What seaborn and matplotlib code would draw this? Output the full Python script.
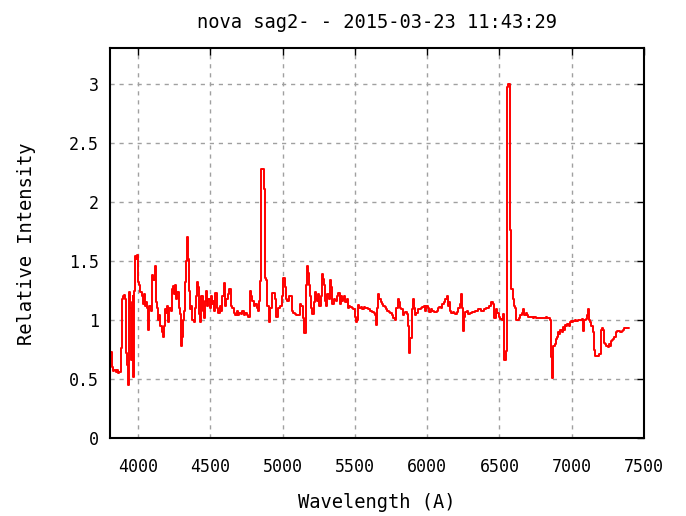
import matplotlib
matplotlib.use("Agg")
import matplotlib.pyplot as plt
import seaborn as sns
import pandas as pd

# Spectrum of the nova (relative flux vs wavelength in Angstrom)
wavelength = [
    3805, 3814, 3822, 3830, 3840, 3848, 3856, 3864, 3874, 3882, 3890, 3898, 3906, 3914,
    3921, 3928, 3935, 3940, 3946, 3952, 3958, 3964, 3970, 3976, 3982, 3990, 3998, 4005,
    4012, 4020, 4028, 4036, 4044, 4052, 4060, 4068, 4074, 4082, 4090, 4096, 4102, 4110,
    4118, 4126, 4134, 4142, 4150, 4158, 4166, 4174, 4182, 4189, 4196, 4204, 4212, 4220,
    4228, 4236, 4244, 4252, 4260, 4268, 4276, 4284, 4292, 4297, 4304, 4312, 4320, 4328,
    4336, 4342, 4348, 4356, 4364, 4372, 4380, 4388, 4396, 4404, 4412, 4420, 4428, 4434,
    4442, 4450, 4458, 4466, 4474, 4482, 4490, 4498, 4506, 4514, 4522, 4530,
    4538, 4548, 4558, 4568, 4578, 4588, 4596, 4606, 4616, 4626, 4636, 4646, 4656, 4666,
    4676, 4686, 4696, 4706, 4716, 4726, 4736, 4746, 4756, 4766, 4776, 4786, 4796, 4806,
    4816, 4826, 4836, 4842,
    4848, 4856, 4866, 4874, 4882, 4890, 4900, 4910, 4918, 4928, 4940, 4952, 4962, 4974,
    4986, 4998, 5008, 5018, 5028, 5038, 5048, 5058, 5068, 5078, 5088, 5100, 5112, 5124,
    5136, 5146, 5156, 5164, 5170,
    5178, 5186, 5194, 5202, 5210, 5218, 5226, 5234, 5242, 5250, 5258, 5266, 5274, 5282,
    5290, 5298, 5306, 5314, 5322, 5332, 5340, 5348, 5356, 5364, 5372, 5380, 5390, 5398,
    5406, 5414, 5422, 5430, 5438, 5446, 5454, 5464, 5474, 5484, 5494, 5502, 5510, 5518,
    5526, 5536, 5546, 5556, 5566, 5576, 5586, 5596, 5606, 5616, 5626, 5636, 5644, 5652,
    5660, 5666, 5674, 5682, 5690, 5700, 5710, 5720, 5730, 5740, 5750, 5760, 5770, 5780,
    5790, 5800, 5810, 5818, 5826, 5834, 5842, 5852, 5862, 5872, 5880, 5888, 5896, 5904,
    5912, 5920, 5930, 5940, 5950, 5960, 5970, 5980, 5990, 6000, 6010, 6020, 6030, 6040,
    6050, 6060, 6070, 6080, 6090, 6100, 6110, 6120, 6130, 6140, 6148, 6156, 6164, 6172,
    6180, 6190, 6200, 6210, 6220, 6230, 6238, 6246, 6252, 6260, 6270, 6280, 6290, 6300,
    6320, 6340, 6360, 6380, 6400, 6420, 6440, 6450, 6460, 6470, 6480, 6490, 6500, 6510,
    6520, 6530, 6538, 6546, 6554, 6562, 6570, 6578, 6588, 6596, 6604, 6612, 6620, 6630,
    6640, 6650, 6660, 6668, 6676, 6686, 6696, 6706, 6716, 6726, 6736, 6746, 6756, 6766,
    6776, 6786, 6796, 6806, 6816, 6826, 6836, 6846, 6856, 6862, 6870, 6878, 6886, 6894,
    6902, 6910, 6918, 6926, 6934, 6942, 6950, 6958, 6966, 6974, 6982, 6990, 6998, 7006,
    7016, 7026, 7036, 7046, 7056, 7066, 7076, 7084, 7092, 7100, 7108, 7116, 7124, 7132,
    7140, 7150, 7158, 7166, 7176, 7186, 7196, 7204, 7212, 7220, 7228, 7236, 7244, 7252,
    7260, 7268, 7276, 7284, 7292, 7300, 7310, 7320, 7330, 7340, 7350, 7360, 7370, 7380,
    7390, 7400,
]
intensity = [
    0.73, 0.73, 0.60, 0.57, 0.58, 0.56, 0.58, 0.55, 0.56, 0.76, 1.18, 1.20, 1.21, 1.18,
    0.72, 0.62, 0.45, 1.24, 1.10, 0.66, 1.15, 1.20, 0.52, 1.25, 1.54, 1.52, 1.55, 1.32,
    1.30, 1.24, 1.20, 1.14, 1.22, 1.12, 1.15, 1.10, 0.92, 1.12, 1.08, 1.30, 1.38, 1.34,
    1.46, 1.15, 1.10, 1.00, 1.04, 0.95, 0.90, 0.86, 0.95, 1.09, 1.06, 1.12, 0.98, 1.10,
    1.08, 1.26, 1.29, 1.22, 1.30, 1.18, 1.24, 1.10, 1.05, 0.78, 0.86, 1.00, 1.08, 1.32,
    1.50, 1.70, 1.52, 1.25, 1.09, 1.12, 1.00, 0.98, 1.10, 1.20, 1.32, 1.28, 1.05, 0.98,
    1.20, 1.08, 1.02, 1.16, 1.25, 1.12, 1.18, 1.10, 1.20, 1.14, 1.16, 1.08,
    1.23, 1.10, 1.06, 1.12, 1.08, 1.20, 1.31, 1.12, 1.18, 1.22, 1.26, 1.12, 1.10, 1.06,
    1.04, 1.08, 1.04, 1.06, 1.05, 1.08, 1.04, 1.06, 1.04, 1.03, 1.25, 1.20, 1.16, 1.12,
    1.14, 1.10, 1.08, 1.16,
    1.33, 2.28, 2.28, 2.11, 1.36, 1.34, 1.12, 0.98, 1.10, 1.23, 1.23, 1.18, 1.03, 1.10,
    1.12, 1.20, 1.36, 1.28, 1.18, 1.16, 1.20, 1.20, 1.08, 1.06, 1.05, 1.04, 1.04, 1.14,
    1.12, 1.02, 0.89, 1.30, 1.46,
    1.40, 1.30, 1.20, 1.10, 1.05, 1.15, 1.24, 1.18, 1.16, 1.22, 1.12, 1.20, 1.39, 1.35,
    1.30, 1.16, 1.12, 1.22, 1.18, 1.34, 1.28, 1.14, 1.18, 1.17, 1.16, 1.20, 1.23, 1.14,
    1.20, 1.16, 1.18, 1.20, 1.15, 1.18, 1.10, 1.12, 1.11, 1.10, 1.09, 1.03, 0.98, 1.00,
    1.13, 1.10, 1.11, 1.09, 1.11, 1.10, 1.10, 1.09, 1.08, 1.08, 1.07, 1.06, 1.04, 0.96,
    1.10, 1.22, 1.18, 1.15, 1.14, 1.12, 1.11, 1.09, 1.08, 1.07, 1.06, 1.04, 1.02, 1.00,
    1.10, 1.18, 1.15, 1.10, 1.09, 1.04, 1.06, 1.07, 1.05, 0.95, 0.72, 0.85, 1.09, 1.18,
    1.10, 1.04, 1.06, 1.09, 1.09, 1.10, 1.11, 1.12, 1.08, 1.12, 1.10, 1.07, 1.09, 1.08,
    1.07, 1.07, 1.08, 1.10, 1.11, 1.10, 1.14, 1.15, 1.18, 1.20, 1.12, 1.15, 1.08, 1.06,
    1.07, 1.06, 1.05, 1.07, 1.10, 1.14, 1.22, 1.10, 0.91, 1.03, 1.07, 1.08, 1.05, 1.06,
    1.07, 1.08, 1.09, 1.08, 1.09, 1.10, 1.12, 1.15, 1.14, 1.02, 1.09, 1.06, 1.03, 1.01,
    1.00, 1.05, 0.66, 0.74, 2.97, 3.00, 3.00, 1.76, 1.26, 1.18, 1.12, 1.10, 1.00, 1.00,
    1.02, 1.04, 1.06, 1.09, 1.04, 1.06, 1.04, 1.03, 1.03, 1.03, 1.02, 1.03, 1.02, 1.02,
    1.02, 1.02, 1.02, 1.02, 1.02, 1.03, 1.02, 1.02, 1.00, 0.69, 0.51, 0.78, 0.80, 0.84,
    0.86, 0.90, 0.88, 0.92, 0.90, 0.94, 0.92, 0.96, 0.95, 0.97, 0.95, 0.98, 0.99, 0.98,
    0.99, 1.00, 0.99, 1.00, 1.00, 1.00, 1.01, 0.91, 1.00, 1.01, 1.04, 1.09, 1.00, 0.98,
    0.95, 0.90, 0.75, 0.70, 0.70, 0.70, 0.71, 0.92, 0.93, 0.92, 0.81, 0.80, 0.78, 0.77,
    0.80, 0.78, 0.82, 0.83, 0.84, 0.86, 0.90, 0.91, 0.91, 0.90, 0.91, 0.92, 0.93, 0.93,
    0.93, 0.93,
]

x_ticks = [4000, 4500, 5000, 5500, 6000, 6500, 7000, 7500]
y_ticks = [0, 0.5, 1, 1.5, 2, 2.5, 3]
y_tick_labels = ["0", "0.5", "1", "1.5", "2", "2.5", "3"]

title = "nova sag2- - 2015-03-23 11:43:29"
x_label = "Wavelength (A)"
y_label = "Relative Intensity"

sns.set_theme(style="white")
plt.rcParams["font.family"] = ["DejaVu Sans Mono", "DejaVu Sans"]
plt.rcParams["text.color"] = "black"

df = pd.DataFrame({"wavelength": wavelength, "intensity": intensity})

fig = plt.figure(figsize=(6.86, 5.16), dpi=100)
fig.patch.set_facecolor("white")
ax = fig.add_axes([0.1603, 0.1506, 0.7784, 0.7558])

sns.lineplot(data=df, x="wavelength", y="intensity", ax=ax, color="#ff0000",
             linewidth=1.4, drawstyle="steps-mid", sort=True, estimator=None)

ax.set_xlim(3805, 7500)
ax.set_ylim(0, 3.3)
ax.set_xticks(x_ticks)
ax.set_xticklabels([str(t) for t in x_ticks])
ax.set_yticks(y_ticks)
ax.set_yticklabels(y_tick_labels)

ax.grid(True, color="#a0a0a0", linestyle=(0, (3, 3.5)), linewidth=1.0)
ax.set_axisbelow(True)

for side in ["left", "right", "top", "bottom"]:
    ax.spines[side].set_visible(True)
    ax.spines[side].set_color("black")
    ax.spines[side].set_linewidth(1.5)

ax.tick_params(axis="both", which="major", direction="in", length=5, width=1,
               colors="black", labelcolor="black", labelsize=12, top=True, right=True,
               labeltop=False, labelright=False)
ax.tick_params(axis="x", pad=14)
ax.tick_params(axis="y", pad=8)

ax.set_xlabel("")
ax.set_ylabel("")
fig.text(377 / 686, 1 - 22 / 516, title, ha="center", va="center",
         fontsize=13.5, color="black")
fig.text(377 / 686, 1 - 503 / 516, x_label, ha="center", va="center",
         fontsize=13.5, color="black")
fig.text(27 / 686, 1 - 244 / 516, y_label, ha="center", va="center",
         rotation=90, fontsize=13.5, color="black")

fig.savefig("out.png", dpi=100, facecolor="white")
